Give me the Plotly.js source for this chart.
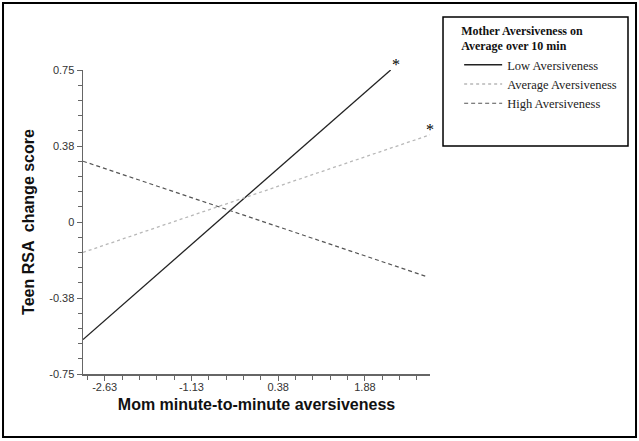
<!DOCTYPE html>
<html>
<head>
<meta charset="utf-8">
<script src="https://cdn.plot.ly/plotly-3.0.1.min.js"></script>
<style>
html,body{margin:0;padding:0;background:#fff;}
#chart{width:639px;height:441px;}
</style>
</head>
<body>
<div id="chart"></div>
<script>
// Data
var seriesNames = ["Low Aversiveness", "Average Aversiveness", "High Aversiveness"];
var lowX = [-3.0, 2.32];
var lowY = [-0.58, 0.75];
var avgX = [-3.0, 3.0];
var avgY = [-0.15, 0.43];
var highX = [-3.0, 2.95];
var highY = [0.30, -0.27];
var xTickVals = [-2.625, -1.125, 0.375, 1.875];
var xTickText = ["-2.63", "-1.13", "0.38", "1.88"];
var yTickVals = [-0.75, -0.375, 0, 0.375, 0.75];
var yTickText = ["-0.75", "-0.38", "0", "0.38", "0.75"];
var starX = [2.42, 3.0];
var starY = [0.79, 0.47];
var yMin = -0.75, yMax = 0.75;

var traces = [
  {x: lowX, y: lowY, mode: "lines", name: seriesNames[0],
   line: {color: "#222222", width: 1.3, dash: "solid"}},
  {x: avgX, y: avgY, mode: "lines", name: seriesNames[1],
   line: {color: "#b8b8b8", width: 1.3, dash: "dot"}},
  {x: highX, y: highY, mode: "lines", name: seriesNames[2],
   line: {color: "#555555", width: 1.2, dash: "4px,3px"}}
];

// stars placed with the x axis scale; y converted to the paper fraction of the y range
var annotations = starX.map(function (sx, i) {
  return {x: sx, y: (starY[i] - yMin) / (yMax - yMin), xref: "x", yref: "paper", text: "*",
    showarrow: false, yshift: 8,
    font: {family: "Liberation Serif, Times New Roman, serif", size: 16, color: "#000"}};
});

var layout = {
  width: 639, height: 441,
  margin: {l: 83, r: 209, t: 70, b: 67},
  paper_bgcolor: "#ffffff", plot_bgcolor: "#ffffff",
  showlegend: true,
  legend: {
    x: 1.084, y: 1.168, xanchor: "left", yanchor: "top",
    bgcolor: "rgba(0,0,0,0)", borderwidth: 0,
    font: {family: "Liberation Serif, Times New Roman, serif", size: 12.5, color: "#222"},
    title: {text: "<b>Mother Aversiveness on<br>Average over 10 min</b>",
            font: {family: "Liberation Serif, Times New Roman, serif", size: 12, color: "#111"},
            side: "top"},
    tracegroupgap: 0, itemwidth: 38
  },
  xaxis: {
    range: [-3, 3], showgrid: false, zeroline: false,
    showline: true, linecolor: "#666", linewidth: 1.5,
    ticks: "outside", ticklen: 5, tickcolor: "#666", tickwidth: 1,
    tickmode: "array", tickvals: xTickVals, ticktext: xTickText,
    ticklabelstandoff: -3,
    tickfont: {family: "Liberation Sans, Arial, sans-serif", size: 11, color: "#333"},
    minor: {tick0: -2.625, dtick: 0.3, ticks: "outside", ticklen: 4, tickcolor: "#666", showgrid: false},
    title: {text: "<b>Mom minute-to-minute aversiveness</b>", standoff: 7,
            font: {family: "Liberation Sans, Arial, sans-serif", size: 16, color: "#111"}}
  },
  yaxis: {
    range: [yMin, yMax], showgrid: false, zeroline: false,
    showline: true, linecolor: "#666", linewidth: 1.5,
    ticks: "outside", ticklen: 5, tickcolor: "#666", tickwidth: 1,
    tickmode: "array", tickvals: yTickVals, ticktext: yTickText,
    tickfont: {family: "Liberation Sans, Arial, sans-serif", size: 11, color: "#333"},
    minor: {tick0: -0.75, dtick: 0.075, ticks: "outside", ticklen: 4, tickcolor: "#666", showgrid: false},
    title: {text: "<b>Teen RSA  change score</b>", standoff: 10,
            font: {family: "Liberation Sans, Arial, sans-serif", size: 16, color: "#111"}}
  },
  annotations: annotations,
  shapes: [
    {type: "rect", xref: "paper", yref: "paper", x0: -0.2305, x1: 1.5937, y0: -0.207, y1: 1.2204,
     line: {color: "#000", width: 2}, fillcolor: "rgba(0,0,0,0)", layer: "below"},
    {type: "rect", xref: "paper", yref: "paper", x0: 1.0375, x1: 1.5706, y0: 0.75, y1: 1.174,
     line: {color: "#000", width: 1.5}, fillcolor: "rgba(0,0,0,0)", layer: "below"}
  ]
};

Plotly.newPlot("chart", traces, layout, {displayModeBar: false, staticPlot: true});
</script>
</body>
</html>
